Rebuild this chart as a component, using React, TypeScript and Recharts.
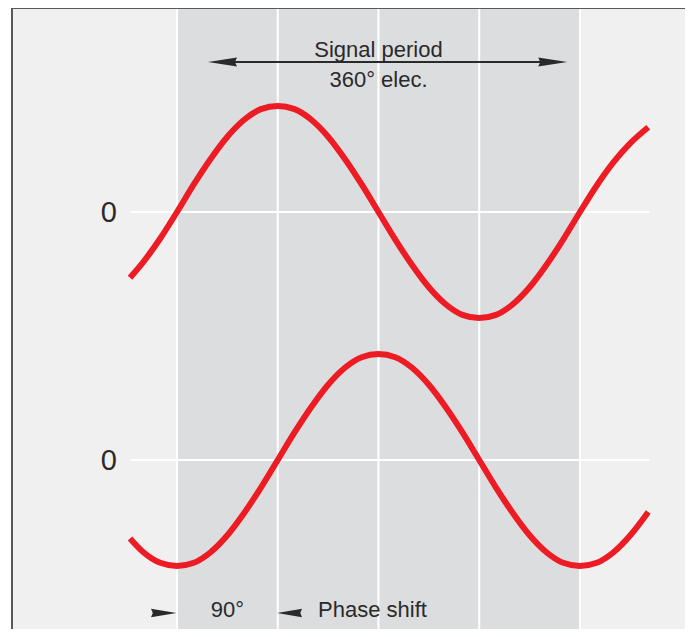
import React from 'react';
import { ComposedChart, Line, XAxis, YAxis, ReferenceArea, ReferenceLine, ReferenceDot } from 'recharts';

// electrical angle (degrees) of each sample
const degrees = [-42, -30, -15, 0, 15, 30, 45, 60, 75, 90, 105, 120, 135, 150, 165, 180, 195, 210, 225, 240, 255, 270, 285, 300, 315, 330, 345, 360, 375, 390, 405, 421];
// upper signal (amplitude units)
const upperSignal = [-0.62, -0.47, -0.25, 0, 0.26, 0.5, 0.71, 0.87, 0.97, 1.0, 0.97, 0.87, 0.71, 0.5, 0.26, 0, -0.26, -0.5, -0.71, -0.87, -0.97, -1.0, -0.97, -0.87, -0.71, -0.5, -0.26, 0, 0.25, 0.47, 0.65, 0.8];
// lower signal, shifted by 90°
const lowerSignal = [-0.74, -0.87, -0.97, -1.0, -0.97, -0.87, -0.71, -0.5, -0.26, 0, 0.26, 0.5, 0.71, 0.87, 0.97, 1.0, 0.97, 0.87, 0.71, 0.5, 0.26, 0, -0.26, -0.5, -0.71, -0.87, -0.97, -1.0, -0.97, -0.87, -0.71, -0.49];

const gridDegrees = [0, 90, 180, 270, 360];
const zeroLabel = '0';
const periodLabels = ['Signal period', '360° elec.'];
const phaseLabels = ['90°', 'Phase shift'];

const data = degrees.map((d, i) => ({ deg: d, upper: upperSignal[i], lower: lowerSignal[i] }));

const FONT = '"Liberation Sans", Arial, Helvetica, sans-serif';
const RED = '#ed1c24';
const INK = '#2a2a2a';

const arrowHead = (tx: number, ty: number, dir: number, len: number, half: number) =>
  `${tx},${ty} ${tx - dir * len},${ty - half} ${tx - dir * len * 0.93},${ty} ${tx - dir * len},${ty + half}`;

const DoubleArrow = (p: any) => {
  const { x1, y1, x2, y2 } = p;
  return (
    <g>
      <line x1={x1 + 20} y1={y1} x2={x2 - 20} y2={y2} stroke={INK} strokeWidth={2} />
      <polygon points={arrowHead(x1, y1, -1, 29, 4.5)} fill={INK} />
      <polygon points={arrowHead(x2, y2, 1, 29, 4.5)} fill={INK} />
    </g>
  );
};

const SingleHead = (p: any) => {
  const { x1, y1, x2, y2 } = p;
  const dir = x2 > x1 ? 1 : -1;
  const len = Math.abs(x2 - x1);
  return <polygon points={arrowHead(x2, y2, dir, len, 4.3)} fill={INK} />;
};

const textShape = (value: string, anchor: string) => (p: any) => (
  <text x={p.cx} y={p.cy} textAnchor={anchor} fontFamily={FONT} fontSize={22} fill={INK}>
    {value}
  </text>
);

export default function App() {
  return (
    <div style={{ position: 'relative', width: 693, height: 637, margin: -8, overflow: 'hidden', background: '#fff' }}>
      <div
        style={{
          position: 'absolute', left: 11, top: 7, width: 680, height: 640, boxSizing: 'border-box',
          borderTop: '2px solid #58595b', borderLeft: '2px solid #58595b', borderRight: '2px solid #58595b',
          background: '#f0f0f0',
        }}
      />
      <div style={{ position: 'absolute', left: 0, top: 0 }}>
        <ComposedChart width={693} height={637} data={data} margin={{ top: 9, left: 13, right: 4, bottom: 0 }}>
          <XAxis type="number" dataKey="deg" domain={[-146.5, 457.4]} hide allowDataOverflow />
          <YAxis yAxisId="u" type="number" domain={[-4.009, 1.915]} hide allowDataOverflow />
          <YAxis yAxisId="l" type="number" domain={[-1.67, 4.255]} hide allowDataOverflow />

          <ReferenceArea yAxisId="u" x1={0} x2={360} fill="#dcdddf" fillOpacity={1} stroke="none" />
          {gridDegrees.map((d) => (
            <ReferenceLine key={d} yAxisId="u" x={d} stroke="#ffffff" strokeWidth={2} />
          ))}
          <ReferenceLine
            yAxisId="u"
            segment={[{ x: -42, y: 0 }, { x: 422, y: 0 }]}
            stroke="#ffffff"
            strokeWidth={2}
            label={{ value: zeroLabel, position: 'left', offset: 13, fontSize: 29, fill: INK, fontFamily: FONT }}
          />
          <ReferenceLine
            yAxisId="l"
            segment={[{ x: -42, y: 0 }, { x: 422, y: 0 }]}
            stroke="#ffffff"
            strokeWidth={2}
            label={{ value: zeroLabel, position: 'left', offset: 13, fontSize: 29, fill: INK, fontFamily: FONT }}
          />

          <Line yAxisId="u" type="monotone" dataKey="upper" stroke={RED} strokeWidth={6} dot={false} isAnimationActive={false} />
          <Line yAxisId="l" type="monotone" dataKey="lower" stroke={RED} strokeWidth={6} dot={false} isAnimationActive={false} />

          <ReferenceLine yAxisId="u" segment={[{ x: 27.7, y: 1.415 }, { x: 348.6, y: 1.415 }]} shape={DoubleArrow} />
          <ReferenceDot yAxisId="u" x={180} y={1.462} r={0} shape={textShape(periodLabels[0], 'middle')} />
          <ReferenceDot yAxisId="u" x={180} y={1.179} r={0} shape={textShape(periodLabels[1], 'middle')} />

          <ReferenceLine yAxisId="l" segment={[{ x: -23.2, y: -1.443 }, { x: -0.5, y: -1.443 }]} shape={SingleHead} />
          <ReferenceLine yAxisId="l" segment={[{ x: 111.7, y: -1.443 }, { x: 89.5, y: -1.443 }]} shape={SingleHead} />
          <ReferenceDot yAxisId="l" x={45} y={-1.481} r={0} shape={textShape(phaseLabels[0], 'middle')} />
          <ReferenceDot yAxisId="l" x={126} y={-1.481} r={0} shape={textShape(phaseLabels[1], 'start')} />
        </ComposedChart>
      </div>
    </div>
  );
}
